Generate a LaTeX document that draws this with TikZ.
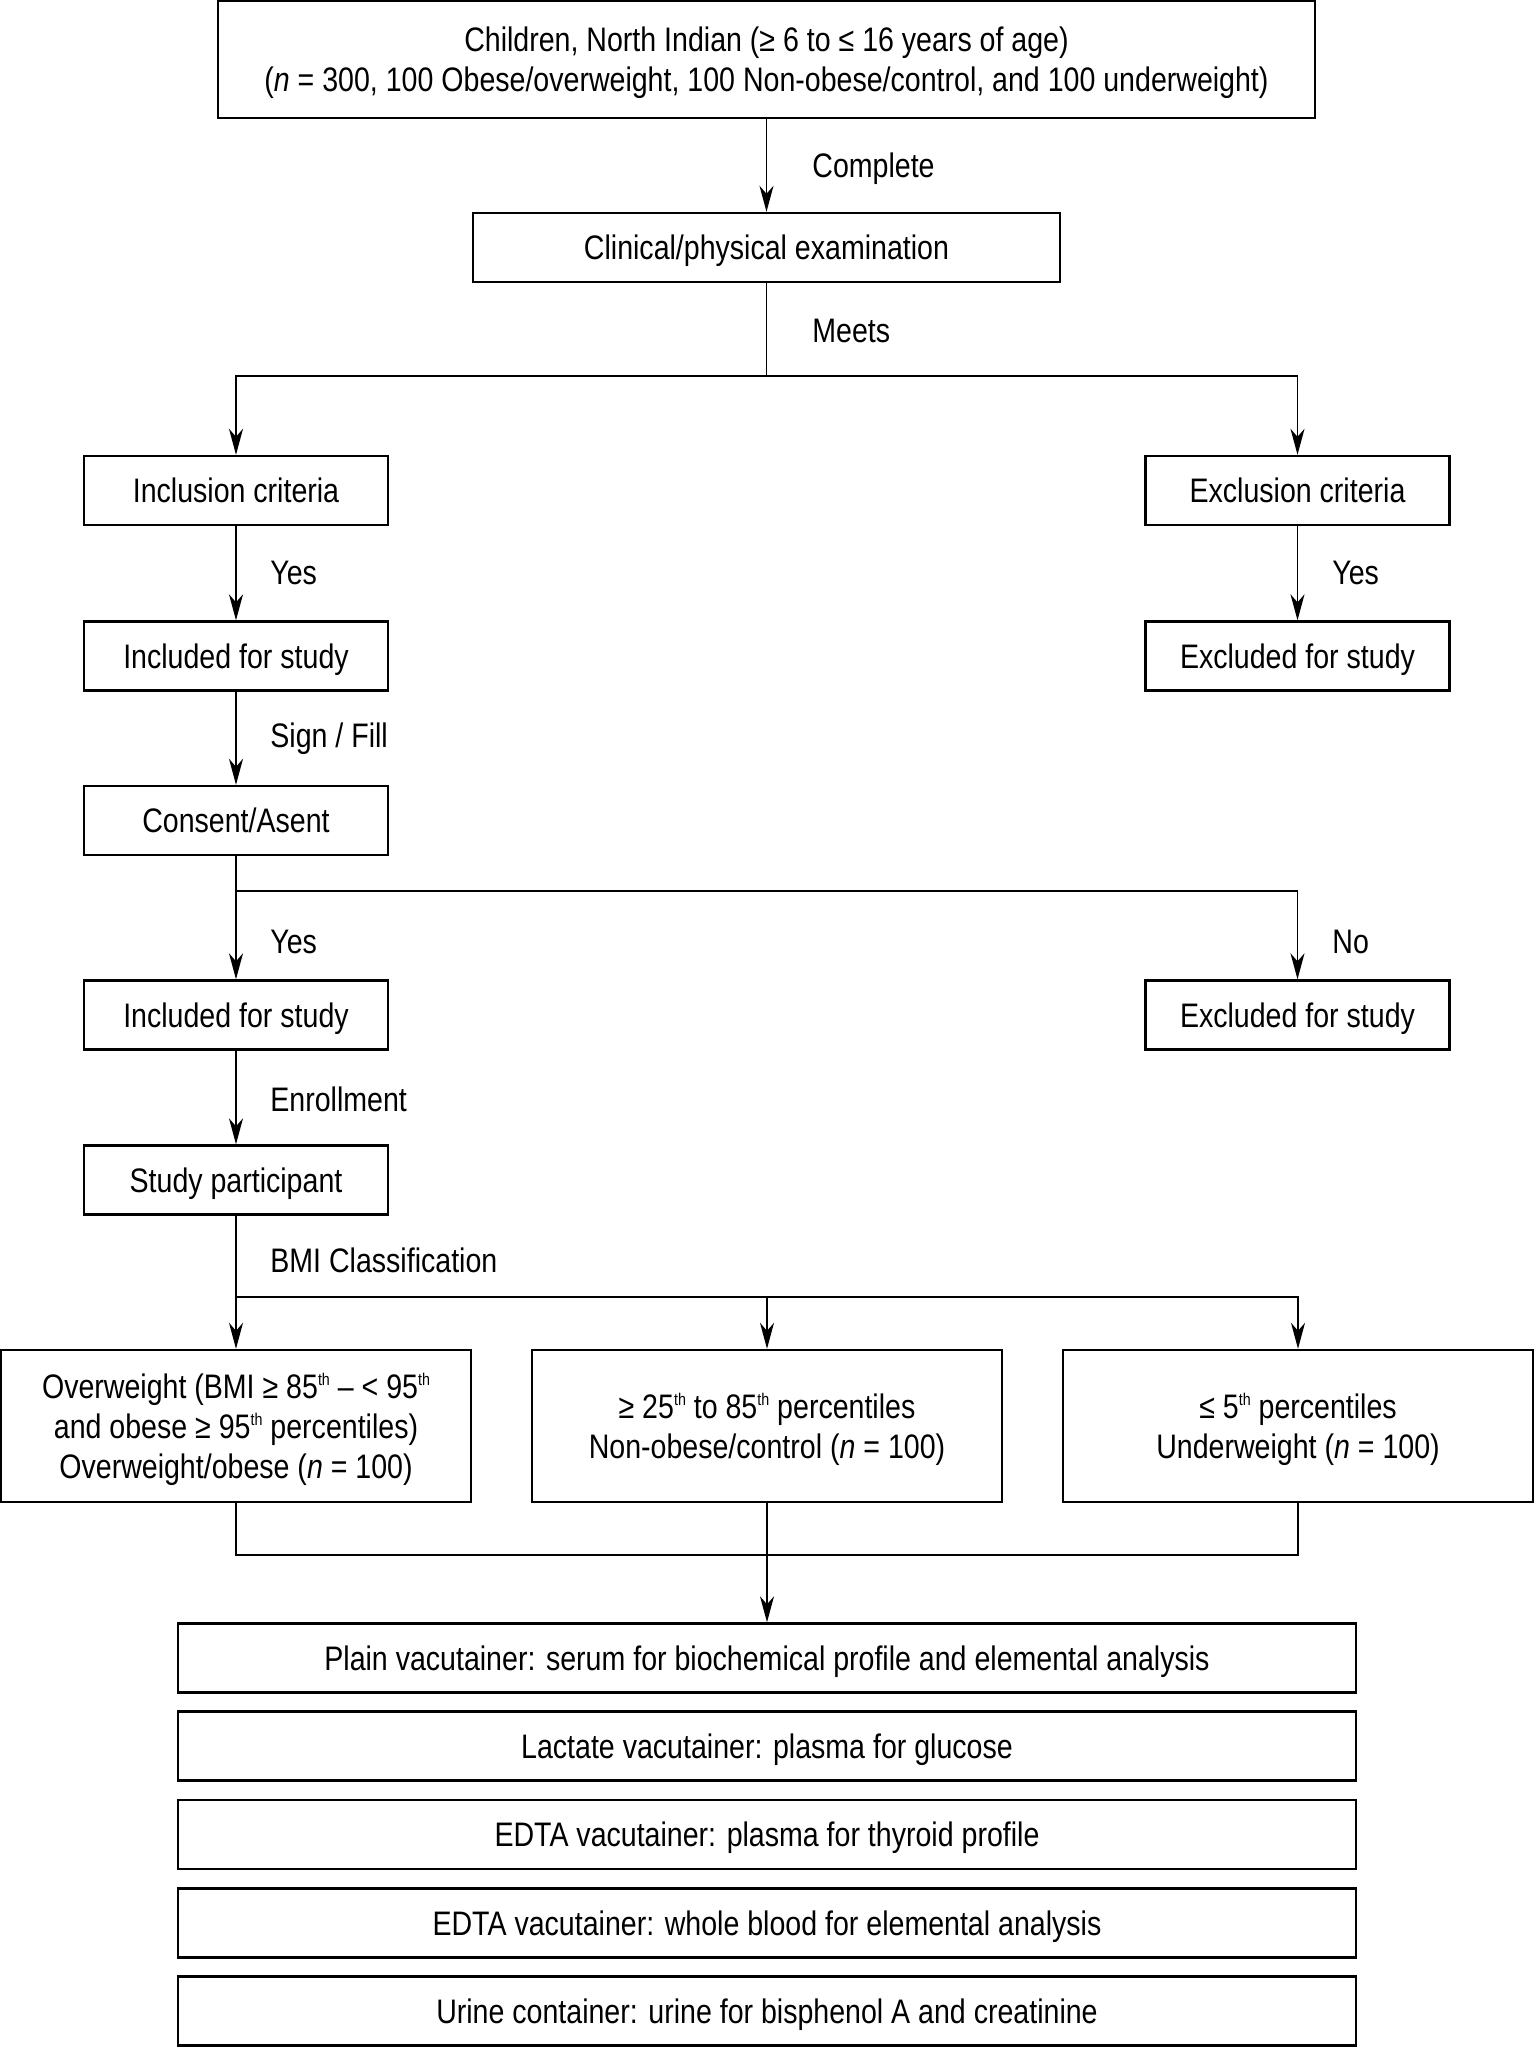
\documentclass[tikz,border=0pt]{standalone}
\usepackage{fontspec}
\setmainfont{Liberation Sans}[FakeStretch=0.84]
\usetikzlibrary{arrows.meta}
\newcommand{\thsup}{\raisebox{0.75ex}{\fontsize{8.5}{9}\selectfont th}}
\begin{document}
\begin{tikzpicture}[x=0.5pt,y=-0.5pt,
  box/.style={draw, line width=1.2pt, rectangle, inner sep=0pt, align=center,
    text depth=0pt, font=\fontsize{17}{20}\selectfont},
  smallbox/.style={box, minimum width=152pt, minimum height=34.5pt},
  conn/.style={line width=0.8pt},
  arr/.style={conn, -{Stealth[length=13pt,width=7pt,inset=4pt]}},
  lbl/.style={anchor=west, inner sep=0pt, font=\fontsize{17}{20}\selectfont}]
\useasboundingbox (0,0) rectangle (1536,2050);
% nodes
\node[box, minimum width=548.5pt, minimum height=58.5pt] (top) at (766.5,59.5)
  {Children, North Indian (≥ 6 to ≤ 16 years of age)\\(\textit{n} = 300, 100 Obese/overweight, 100 Non-obese/control, and 100 underweight)};
\node[box, minimum width=293.5pt, minimum height=34.5pt] (clin) at (766.5,247.5) {Clinical/physical examination};
\node[smallbox] (incl) at (236,490.5) {Inclusion criteria};
\node[smallbox] (excl) at (1297.5,490.5) {Exclusion criteria};
\node[smallbox] (inc2) at (236,656) {Included for study};
\node[smallbox] (exc2) at (1297.5,656) {Excluded for study};
\node[smallbox] (cons) at (236,820.5) {Consent/Asent};
\node[smallbox] (inc3) at (236,1015) {Included for study};
\node[smallbox] (exc3) at (1297.5,1015) {Excluded for study};
\node[smallbox] (study) at (236,1180) {Study participant};
\node[box, minimum width=235pt, minimum height=76pt] (ow) at (236,1426)
  {Overweight (BMI ≥ 85\thsup{} – < 95\thsup\\and obese ≥ 95\thsup{} percentiles)\\Overweight/obese (\textit{n} = 100)};
\node[box, minimum width=235pt, minimum height=76pt] (ctrl) at (767,1426)
  {≥ 25\thsup{} to 85\thsup{} percentiles\\Non-obese/control (\textit{n} = 100)};
\node[box, minimum width=235pt, minimum height=76pt] (uw) at (1298,1426)
  {≤ 5\thsup{} percentiles\\Underweight (\textit{n} = 100)};
\node[box, minimum width=589pt, minimum height=34.5pt] (b1) at (767,1658) {Plain vacutainer: serum for biochemical profile and elemental analysis};
\node[box, minimum width=589pt, minimum height=34.5pt] (b2) at (767,1746) {Lactate vacutainer: plasma for glucose};
\node[box, minimum width=589pt, minimum height=34.5pt] (b3) at (767,1834.5) {EDTA vacutainer: plasma for thyroid profile};
\node[box, minimum width=589pt, minimum height=34.5pt] (b4) at (767,1923) {EDTA vacutainer: whole blood for elemental analysis};
\node[box, minimum width=589pt, minimum height=34.5pt] (b5) at (767,2011) {Urine container: urine for bisphenol A and creatinine};
% junctions
\coordinate (j1) at (766.5,376);
\coordinate (j2) at (236,891);
\coordinate (j3) at (236,1297);
\coordinate (m) at (767,1555);
% connectors
\draw[arr] (top.south) -- (clin.north);
\draw[conn] (clin.south) -- (j1);
\draw[arr] (j1) -| (incl.north);
\draw[arr] (j1) -| (excl.north);
\draw[arr] (incl.south) -- (inc2.north);
\draw[arr] (excl.south) -- (exc2.north);
\draw[arr] (inc2.south) -- (cons.north);
\draw[arr] (cons.south) -- (inc3.north);
\draw[arr] (j2) -| (exc3.north);
\draw[arr] (inc3.south) -- (study.north);
\draw[arr] (study.south) -- (ow.north);
\draw[arr] (j3) -| (ctrl.north);
\draw[arr] (j3) -| (uw.north);
\draw[conn] (ow.south) |- (m);
\draw[conn] (uw.south) |- (m);
\draw[arr] (ctrl.south) -- (b1.north);
% labels
\node[lbl] (lcomp) at (812,169) {Complete};
\node[lbl] (lmeets) at (812,331) {Meets};
\node[lbl] (ly1) at (270,573) {Yes};
\node[lbl] (ly2) at (1332,573) {Yes};
\node[lbl] (lsign) at (270,739) {Sign / Fill};
\node[lbl] (ly3) at (270,942) {Yes};
\node[lbl] (lno) at (1332,942) {No};
\node[lbl] (lenr) at (270,1099) {Enrollment};
\node[lbl] (lbmi) at (270,1260) {BMI Classification};
\end{tikzpicture}
\end{document}
